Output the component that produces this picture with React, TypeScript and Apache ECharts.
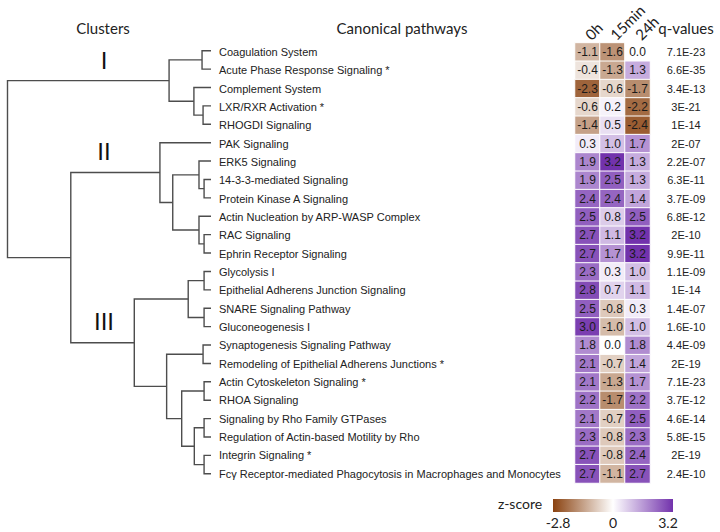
import React, { useEffect, useRef } from "react";
import * as echarts from "echarts";

const timepoints = ["0h", "15min", "24h"];

const pathways = [
  "Coagulation System",
  "Acute Phase Response Signaling *",
  "Complement System",
  "LXR/RXR Activation *",
  "RHOGDI Signaling",
  "PAK Signaling",
  "ERK5 Signaling",
  "14-3-3-mediated Signaling",
  "Protein Kinase A Signaling",
  "Actin Nucleation by ARP-WASP Complex",
  "RAC Signaling",
  "Ephrin Receptor Signaling",
  "Glycolysis I",
  "Epithelial Adherens Junction Signaling",
  "SNARE Signaling Pathway",
  "Gluconeogenesis I",
  "Synaptogenesis Signaling Pathway",
  "Remodeling of Epithelial Adherens Junctions *",
  "Actin Cytoskeleton Signaling *",
  "RHOA Signaling",
  "Signaling by Rho Family GTPases",
  "Regulation of Actin-based Motility by Rho",
  "Integrin Signaling *",
  "Fcγ Receptor-mediated Phagocytosis in Macrophages and Monocytes",
];

const z0h = [-1.1, -0.4, -2.3, -0.6, -1.4, 0.3, 1.9, 1.9, 2.4, 2.5, 2.7, 2.7, 2.3, 2.8, 2.5, 3.0, 1.8, 2.1, 2.1, 2.2, 2.1, 2.3, 2.7, 2.7];
const z15min = [-1.6, -1.3, -0.6, 0.2, 0.5, 1.0, 3.2, 2.5, 2.4, 0.8, 1.1, 1.7, 0.3, 0.7, -0.8, -1.0, 0.0, -0.7, -1.3, -1.7, -0.7, -0.8, -0.8, -1.1];
const z24h = [0.0, 1.3, -1.7, -2.2, -2.4, 1.7, 1.3, 1.3, 1.4, 2.5, 3.2, 3.2, 1.0, 1.1, 0.3, 1.0, 1.8, 1.4, 1.7, 2.2, 2.5, 2.3, 2.4, 2.7];

const qValues = ["7.1E-23", "6.6E-35", "3.4E-13", "3E-21", "1E-14", "2E-07", "2.2E-07", "6.3E-11", "3.7E-09", "6.8E-12", "2E-10", "9.9E-11", "1.1E-09", "1E-14", "1.4E-07", "1.6E-10", "4.4E-09", "2E-19", "7.1E-23", "3.7E-12", "4.6E-14", "5.8E-15", "2E-19", "2.4E-10"];

// Dendrogram merges: [childA, childB, height]; "L#" = leaf row index, "N#" = earlier merge
const merges: [string, string, number][] = [
  ["L0", "L1", 4.4],
  ["L3", "L4", 3.9],
  ["L2", "N1", 8.4],
  ["N0", "N2", 20.6],
  ["L7", "L8", 3.4],
  ["L6", "N4", 5.9],
  ["L10", "L11", 3.4],
  ["L9", "N6", 5.9],
  ["N5", "N7", 18.8],
  ["L5", "N8", 25.1],
  ["L12", "L13", 3.4],
  ["L14", "L15", 3.4],
  ["N10", "N11", 11.2],
  ["L16", "L17", 3.9],
  ["L18", "L19", 3.4],
  ["L20", "L21", 3.4],
  ["L22", "L23", 3.4],
  ["N15", "N16", 8.2],
  ["N14", "N17", 14.4],
  ["N13", "N18", 21.8],
  ["N12", "N19", 37.7],
  ["N9", "N20", 68.9],
  ["N3", "N21", 100],
];

const zMin = -2.8;
const zMax = 3.2;

const BROWN = [138, 66, 16];
const PURPLE = [114, 50, 172];

function colorAt(v: number): string {
  const w = [255, 255, 255];
  const [end, t] = v < 0 ? [BROWN, -v / -zMin] : [PURPLE, v / zMax];
  const c = w.map((x, i) => Math.round(x + (end[i] - x) * t));
  return `rgb(${c[0]},${c[1]},${c[2]})`;
}

function buildDendro() {
  const nodes: { h: number; y: number }[] = [];
  const get = (id: string) => {
    const idx = parseInt(id.slice(1), 10);
    return id[0] === "L" ? { h: 0, y: idx } : nodes[idx];
  };
  const lines: { coords: number[][] }[] = [];
  merges.forEach(([a, b, h]) => {
    const A = get(a);
    const B = get(b);
    lines.push({ coords: [[A.h, A.y], [h, A.y], [h, B.y], [B.h, B.y]] });
    nodes.push({ h, y: (A.y + B.y) / 2 });
  });
  return lines;
}

export default function App() {
  const ref = useRef<HTMLDivElement>(null);

  useEffect(() => {
    if (!ref.current) return;
    const chart = echarts.init(ref.current, null, { renderer: "svg" });

    const heatData: number[][] = [];
    [z0h, z15min, z24h].forEach((col, ci) => {
      col.forEach((v, ri) => heatData.push([ci, ri, v]));
    });

    const stops: string[] = [];
    for (let k = 0; k <= 30; k++) stops.push(colorAt(zMin + k * 0.2));

    const top = 41.5;
    const height = 441.5;
    const txt = "#222";

    chart.setOption({
      animation: false,
      backgroundColor: "#fff",
      grid: [
        { left: 7.5, width: 203.5, top, height },
        { left: 575, width: 75, top, height },
      ],
      xAxis: [
        { gridIndex: 0, type: "value", min: 0, max: 100, inverse: true, show: false },
        {
          gridIndex: 1,
          type: "category",
          data: timepoints,
          position: "top",
          axisLine: { show: false },
          axisTick: { show: false },
          axisLabel: {
            interval: 0,
            rotate: -45,
            margin: 6,
            fontFamily: "Lato",
            fontSize: 15,
            color: txt,
          },
        },
      ],
      yAxis: [
        { gridIndex: 0, type: "value", min: -0.5, max: 23.5, inverse: true, show: false },
        {
          gridIndex: 1,
          type: "category",
          data: pathways,
          inverse: true,
          position: "left",
          axisLine: { show: false },
          axisTick: { show: false },
          axisLabel: {
            interval: 0,
            align: "left",
            margin: 356,
            fontFamily: "Liberation Sans",
            fontSize: 11,
            color: txt,
          },
        },
        {
          gridIndex: 1,
          type: "category",
          data: qValues,
          inverse: true,
          position: "right",
          axisLine: { show: false },
          axisTick: { show: false },
          axisLabel: {
            interval: 0,
            align: "center",
            margin: 36,
            fontFamily: "Liberation Sans",
            fontSize: 11,
            color: txt,
          },
        },
      ],
      visualMap: {
        show: false,
        type: "continuous",
        min: zMin,
        max: zMax,
        seriesIndex: 1,
        dimension: 2,
        inRange: { color: stops },
      },
      series: [
        {
          type: "lines",
          coordinateSystem: "cartesian2d",
          xAxisIndex: 0,
          yAxisIndex: 0,
          polyline: true,
          silent: true,
          lineStyle: { color: "#4d4d4d", width: 1.4, opacity: 1 },
          data: buildDendro(),
        },
        {
          type: "heatmap",
          xAxisIndex: 1,
          yAxisIndex: 1,
          data: heatData,
          itemStyle: { borderColor: "#fff", borderWidth: 1 },
          label: {
            show: true,
            fontFamily: "Liberation Sans",
            fontSize: 12,
            color: "#1a1a1a",
            formatter: (p: any) => p.value[2].toFixed(1),
          },
        },
      ],
      graphic: [
        { type: "text", x: 103, y: 28, style: { text: "Clusters", font: "15px Lato", fill: txt, align: "center", verticalAlign: "middle" } },
        { type: "text", x: 402, y: 28, style: { text: "Canonical pathways", font: "15px Lato", fill: txt, align: "center", verticalAlign: "middle" } },
        { type: "text", x: 686, y: 28, style: { text: "q-values", font: "15px Lato", fill: txt, align: "center", verticalAlign: "middle" } },
        { type: "text", x: 104, y: 60, style: { text: "I", font: "24px Liberation Sans", fill: "#111", align: "center", verticalAlign: "middle" } },
        { type: "text", x: 104, y: 151, style: { text: "II", font: "24px Liberation Sans", fill: "#111", align: "center", verticalAlign: "middle" } },
        { type: "text", x: 104, y: 321, style: { text: "III", font: "24px Liberation Sans", fill: "#111", align: "center", verticalAlign: "middle" } },
        { type: "text", x: 520, y: 503, style: { text: "z-score", font: "14px Lato", fill: txt, align: "center", verticalAlign: "middle" } },
        {
          type: "rect",
          shape: { x: 553, y: 499, width: 120, height: 13 },
          style: {
            fill: new echarts.graphic.LinearGradient(0, 0, 1, 0, [
              { offset: 0, color: colorAt(zMin) },
              { offset: 0.5, color: "#ffffff" },
              { offset: 1, color: colorAt(zMax) },
            ]),
          },
        },
        { type: "text", x: 558, y: 522, style: { text: String(zMin), font: "14px Lato", fill: txt, align: "center", verticalAlign: "middle" } },
        { type: "text", x: 613, y: 522, style: { text: "0", font: "14px Lato", fill: txt, align: "center", verticalAlign: "middle" } },
        { type: "text", x: 668, y: 522, style: { text: String(zMax), font: "14px Lato", fill: txt, align: "center", verticalAlign: "middle" } },
      ],
    });

    return () => chart.dispose();
  }, []);

  return (
    <div
      ref={ref}
      style={{ position: "fixed", left: 0, top: 0, width: 720, height: 532, background: "#fff" }}
    />
  );
}
